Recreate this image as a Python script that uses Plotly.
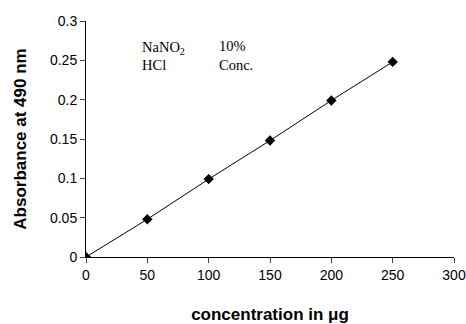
import plotly.graph_objects as go

concentration = [0, 50, 100, 150, 200, 250]
absorbance = [0, 0.048, 0.099, 0.148, 0.199, 0.248]
x_ticks = [0, 50, 100, 150, 200, 250, 300]
y_ticks = [0, 0.05, 0.1, 0.15, 0.2, 0.25, 0.3]
y_tick_labels = ["0", "0.05", "0.1", "0.15", "0.2", "0.25", "0.3"]

fig = go.Figure()
fig.add_trace(go.Scatter(
    x=concentration, y=absorbance, mode="lines+markers",
    line=dict(color="black", width=1),
    marker=dict(symbol="diamond", size=8, color="black"),
    showlegend=False,
))

tickfont = dict(family="Liberation Sans, Arial", size=14, color="black")
titlefont = dict(family="Liberation Sans, Arial", size=17, color="black")
fig.update_layout(
    width=466, height=324,
    margin=dict(l=86, r=12, t=21, b=67),
    paper_bgcolor="white", plot_bgcolor="white",
    xaxis=dict(range=[0, 300], tickvals=x_ticks, ticks="outside", ticklen=5,
               showline=True, linecolor="black", linewidth=1, showgrid=False,
               zeroline=False, tickfont=tickfont, automargin=False,
               title=dict(text="<b>concentration in μg</b>", standoff=35, font=titlefont)),
    yaxis=dict(range=[0, 0.3], tickvals=y_ticks, ticktext=y_tick_labels, ticks="outside",
               ticklen=5, showline=True, linecolor="black", linewidth=1, showgrid=False,
               zeroline=False, tickfont=tickfont, automargin=False,
               title=dict(text="<b>Absorbance at 490 nm</b>", standoff=19, font=titlefont)),
)

annfont = dict(family="Liberation Serif, Times New Roman", size=14.5, color="black")
fig.add_annotation(x=44, y=0.266, xref="x", yref="y", text="NaNO<sub>2</sub>",
                   showarrow=False, xanchor="left", font=annfont)
fig.add_annotation(x=107, y=0.268, xref="x", yref="y", text="10%",
                   showarrow=False, xanchor="left", font=annfont)
fig.add_annotation(x=44, y=0.244, xref="x", yref="y", text="HCl",
                   showarrow=False, xanchor="left", font=annfont)
fig.add_annotation(x=107, y=0.244, xref="x", yref="y", text="Conc.",
                   showarrow=False, xanchor="left", font=annfont)

fig.write_html("out.html", config={"displayModeBar": False},
               post_script="document.body.style.margin='0';")
